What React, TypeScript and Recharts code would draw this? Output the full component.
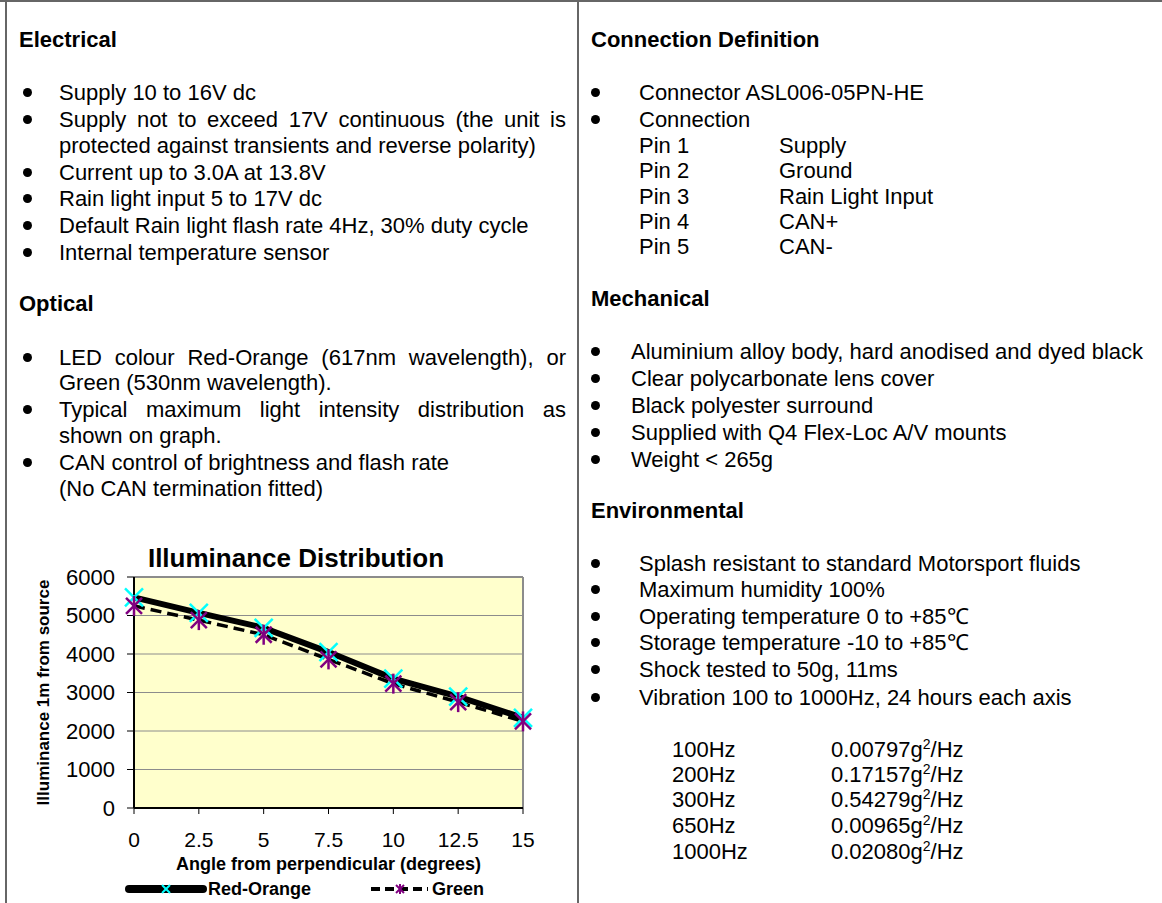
import React from "react";
import {
  LineChart,
  Line,
  XAxis,
  YAxis,
  CartesianGrid,
  Legend,
  ReferenceLine,
  Label,
} from "recharts";

const FONT = '"Liberation Sans", Arial, Helvetica, sans-serif';

// chart data
const angles = [0, 2.5, 5, 7.5, 10, 12.5, 15];
const redOrange = [5470, 5070, 4680, 4050, 3360, 2890, 2340];
const green = [5250, 4880, 4500, 3860, 3230, 2750, 2250];
const yTicks = [0, 1000, 2000, 3000, 4000, 5000, 6000];

const chartData = angles.map((a, i) => ({
  angle: a,
  redOrange: redOrange[i],
  green: green[i],
}));

// page text
const electrical = [
  "Supply 10 to 16V dc",
  "Supply not to exceed 17V continuous (the unit is",
  "protected against transients and reverse polarity)",
  "Current up to 3.0A at 13.8V",
  "Rain light input 5 to 17V dc",
  "Default Rain light flash rate 4Hz, 30% duty cycle",
  "Internal temperature sensor",
];
const electricalY = [93, 120, 146, 173, 199, 226, 253];
const electricalBullet = [true, true, false, true, true, true, true];
const electricalJustify = [false, true, false, false, false, false, false];

const optical = [
  "LED colour Red-Orange (617nm wavelength), or",
  "Green (530nm wavelength).",
  "Typical maximum light intensity distribution as",
  "shown on graph.",
  "CAN control of brightness and flash rate",
  "(No CAN termination fitted)",
];
const opticalY = [358, 383, 410, 436, 463, 489];
const opticalBullet = [true, false, true, false, true, false];
const opticalJustify = [true, false, true, false, false, false];

const pins = ["Pin 1", "Pin 2", "Pin 3", "Pin 4", "Pin 5"];
const pinNames = ["Supply", "Ground", "Rain Light Input", "CAN+", "CAN-"];
const pinY = [146, 171, 197, 222, 247];

const mechanical = [
  "Aluminium alloy body, hard anodised and dyed black",
  "Clear polycarbonate lens cover",
  "Black polyester surround",
  "Supplied with Q4 Flex-Loc A/V mounts",
  "Weight < 265g",
];
const mechanicalY = [352, 379, 406, 433, 460];

const environmental = [
  "Splash resistant to standard Motorsport fluids",
  "Maximum humidity 100%",
  "Operating temperature 0 to +85\u2103",
  "Storage temperature -10 to +85\u2103",
  "Shock tested to 50g, 11ms",
  "Vibration 100 to 1000Hz, 24 hours each axis",
];
const environmentalY = [564, 590, 617, 643, 670, 698];

const vibFreq = ["100Hz", "200Hz", "300Hz", "650Hz", "1000Hz"];
const vibValue = ["0.00797", "0.17157", "0.54279", "0.00965", "0.02080"];
const vibY = [750, 775, 800, 826, 852];

function Txt(props: {
  x: number;
  y: number;
  bold?: boolean;
  width?: number;
  children: React.ReactNode;
}) {
  const { x, y, bold, width, children } = props;
  return (
    <div
      style={{
        position: "absolute",
        left: x,
        top: y - 13,
        fontSize: 22,
        lineHeight: "26px",
        fontWeight: bold ? 700 : 400,
        whiteSpace: width ? "normal" : "nowrap",
        width: width,
        textAlign: width ? "justify" : "left",
        textAlignLast: width ? "justify" : "auto",
      }}
    >
      {children}
    </div>
  );
}

function Bullet({ x, y }: { x: number; y: number }) {
  return (
    <div
      style={{
        position: "absolute",
        left: x - 5,
        top: y - 5,
        width: 9,
        height: 9,
        borderRadius: "50%",
        background: "#000",
      }}
    />
  );
}

// cyan "x" marker
const CrossDot = (props: any) => {
  const { cx, cy } = props;
  if (cx == null || cy == null) return null;
  const r = 9;
  return (
    <g stroke="#00FFFF" strokeWidth={2.5}>
      <line x1={cx - r} y1={cy - r} x2={cx + r} y2={cy + r} />
      <line x1={cx - r} y1={cy + r} x2={cx + r} y2={cy - r} />
    </g>
  );
};

// purple asterisk marker
const StarDot = (props: any) => {
  const { cx, cy } = props;
  if (cx == null || cy == null) return null;
  const r = 8;
  return (
    <g stroke="#800080" strokeWidth={2.5}>
      <line x1={cx - r} y1={cy - r} x2={cx + r} y2={cy + r} />
      <line x1={cx - r} y1={cy + r} x2={cx + r} y2={cy - r} />
      <line x1={cx} y1={cy - r - 2} x2={cx} y2={cy + r + 2} />
    </g>
  );
};

function LegendContent(props: any) {
  const payload = props.payload || [];
  const ro = payload.find((p: any) => p.dataKey === "redOrange");
  const gr = payload.find((p: any) => p.dataKey === "green");
  return (
    <div style={{ position: "relative", width: 578, height: 28, fontFamily: FONT }}>
      {ro && (
        <div style={{ position: "absolute", left: 125, top: 0, height: 28, display: "flex", alignItems: "center" }}>
          <svg width={82} height={28}>
            <line x1={4} y1={14} x2={78} y2={14} stroke="#000" strokeWidth={8} strokeLinecap="round" />
            <line x1={37} y1={10} x2={45} y2={18} stroke="#00FFFF" strokeWidth={2} />
            <line x1={37} y1={18} x2={45} y2={10} stroke="#00FFFF" strokeWidth={2} />
          </svg>
          <span style={{ fontWeight: 700, fontSize: 18, marginLeft: 1 }}>{ro.value}</span>
        </div>
      )}
      {gr && (
        <div style={{ position: "absolute", left: 370, top: 0, height: 28, display: "flex", alignItems: "center" }}>
          <svg width={60} height={28}>
            <line x1={1} y1={14} x2={58} y2={14} stroke="#000" strokeWidth={4} strokeDasharray="9 5" />
            <g stroke="#800080" strokeWidth={2}>
              <line x1={26} y1={10} x2={34} y2={18} />
              <line x1={26} y1={18} x2={34} y2={10} />
              <line x1={30} y1={9} x2={30} y2={19} />
            </g>
          </svg>
          <span style={{ fontWeight: 700, fontSize: 18, marginLeft: 2 }}>{gr.value}</span>
        </div>
      )}
    </div>
  );
}

function IlluminanceChart() {
  return (
    <div style={{ position: "absolute", left: 0, top: 540, width: 578, height: 363 }}>
      <div
        style={{
          position: "absolute",
          left: 0,
          width: 592,
          top: 3,
          textAlign: "center",
          fontSize: 26,
          lineHeight: "30px",
          fontWeight: 700,
        }}
      >
        Illuminance Distribution
      </div>
      <LineChart
        width={578}
        height={363}
        data={chartData}
        margin={{ top: 37, right: 55, left: 0, bottom: 0 }}
        style={{ fontFamily: FONT }}
      >
        <CartesianGrid vertical={false} stroke="#8c8c8c" fill="#FFFFCC" />
        <ReferenceLine y={6000} stroke="#8c8c8c" strokeWidth={2} />
        <ReferenceLine x={15} stroke="#8c8c8c" strokeWidth={2} />
        <XAxis
          dataKey="angle"
          type="category"
          scale="point"
          interval={0}
          height={95}
          tickSize={6}
          tickMargin={18}
          tick={{ fill: "#000", fontSize: 21 }}
          axisLine={{ stroke: "#000", strokeWidth: 2 }}
          tickLine={{ stroke: "#000" }}
        >
          <Label
            value="Angle from perpendicular (degrees)"
            position="insideTop"
            offset={49}
            style={{ fontWeight: 700, fontSize: 18, fill: "#000" }}
          />
        </XAxis>
        <YAxis
          domain={[0, 6000]}
          ticks={yTicks}
          width={134}
          tickSize={7}
          tickMargin={12}
          tick={{ fill: "#000", fontSize: 22 }}
          axisLine={{ stroke: "#000", strokeWidth: 2 }}
          tickLine={{ stroke: "#000" }}
        >
          <Label
            value="Illuminance 1m from source"
            angle={-90}
            position="insideLeft"
            offset={43}
            style={{ fontWeight: 700, fontSize: 17, fill: "#000", textAnchor: "middle" }}
          />
        </YAxis>
        <Legend
          layout="horizontal"
          verticalAlign="middle"
          align="center"
          content={<LegendContent />}
          wrapperStyle={{ left: 0, top: 335, width: 578, height: 28 }}
        />
        <Line
          type="linear"
          dataKey="redOrange"
          name="Red-Orange"
          stroke="#000"
          strokeWidth={6}
          dot={<CrossDot />}
          activeDot={false}
          isAnimationActive={false}
        />
        <Line
          type="linear"
          dataKey="green"
          name="Green"
          stroke="#000"
          strokeWidth={3.5}
          strokeDasharray="11 6"
          dot={<StarDot />}
          activeDot={false}
          isAnimationActive={false}
        />
      </LineChart>
    </div>
  );
}

export default function App() {
  return (
    <div
      style={{
        position: "absolute",
        left: 0,
        top: 0,
        width: 1162,
        height: 903,
        background: "#fff",
        overflow: "hidden",
        fontFamily: FONT,
        color: "#000",
      }}
    >
      {/* frame lines */}
      <div style={{ position: "absolute", left: 0, top: 0, width: 1162, height: 2, background: "#666" }} />
      <div style={{ position: "absolute", left: 5, top: 0, width: 2, height: 903, background: "#666" }} />
      <div style={{ position: "absolute", left: 577, top: 0, width: 2, height: 903, background: "#666" }} />

      {/* left column */}
      <Txt x={19} y={40} bold>Electrical</Txt>
      {electrical.map((t, i) => (
        <React.Fragment key={t}>
          {electricalBullet[i] && <Bullet x={28} y={electricalY[i]} />}
          <Txt x={59} y={electricalY[i]} width={electricalJustify[i] ? 507 : undefined}>{t}</Txt>
        </React.Fragment>
      ))}
      <Txt x={19} y={304} bold>Optical</Txt>
      {optical.map((t, i) => (
        <React.Fragment key={t}>
          {opticalBullet[i] && <Bullet x={28} y={opticalY[i]} />}
          <Txt x={59} y={opticalY[i]} width={opticalJustify[i] ? 507 : undefined}>{t}</Txt>
        </React.Fragment>
      ))}

      <IlluminanceChart />

      {/* right column */}
      <Txt x={591} y={40} bold>Connection Definition</Txt>
      <Bullet x={596} y={93} />
      <Txt x={639} y={93}>Connector ASL006-05PN-HE</Txt>
      <Bullet x={596} y={120} />
      <Txt x={639} y={120}>Connection</Txt>
      {pins.map((p, i) => (
        <React.Fragment key={p}>
          <Txt x={639} y={pinY[i]}>{p}</Txt>
          <Txt x={779} y={pinY[i]}>{pinNames[i]}</Txt>
        </React.Fragment>
      ))}

      <Txt x={591} y={299} bold>Mechanical</Txt>
      {mechanical.map((t, i) => (
        <React.Fragment key={t}>
          <Bullet x={596} y={mechanicalY[i]} />
          <Txt x={631} y={mechanicalY[i]}>{t}</Txt>
        </React.Fragment>
      ))}

      <Txt x={591} y={511} bold>Environmental</Txt>
      {environmental.map((t, i) => (
        <React.Fragment key={t}>
          <Bullet x={596} y={environmentalY[i]} />
          <Txt x={639} y={environmentalY[i]}>{t}</Txt>
        </React.Fragment>
      ))}

      {vibFreq.map((f, i) => (
        <React.Fragment key={f}>
          <Txt x={672} y={vibY[i]}>{f}</Txt>
          <Txt x={831} y={vibY[i]}>
            {vibValue[i]}g<sup style={{ fontSize: 14, lineHeight: 0, verticalAlign: "0.55em" }}>2</sup>/Hz
          </Txt>
        </React.Fragment>
      ))}
    </div>
  );
}
